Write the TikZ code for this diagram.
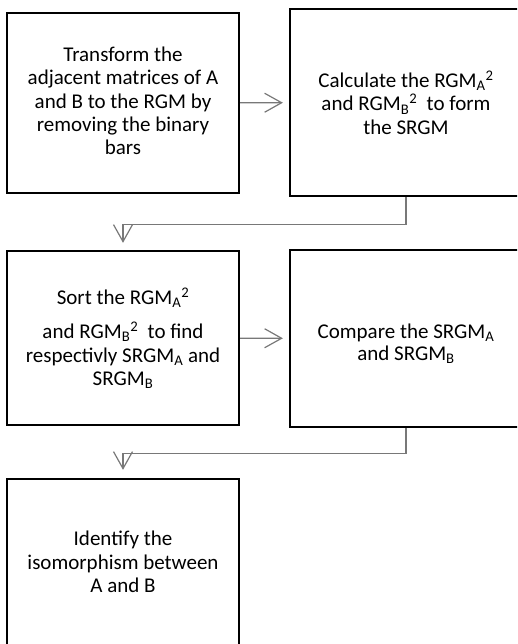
\documentclass[tikz,border=0pt]{standalone}
\usepackage{fontspec}
\setmainfont{Carlito}
\usetikzlibrary{arrows.meta}
\definecolor{edge_gray}{RGB}{120,120,120}

\begin{document}
\begin{tikzpicture}[->,x=1pt,y=-1pt,>={Straight Barb[length=17pt,width=19pt]}]
    \tikzstyle{stepbox}=[draw=black, line width=2.3pt, rectangle, minimum width=232pt, inner sep=0pt, align=center, text=black, font=\fontsize{21}{23.3}\selectfont]
    \tikzstyle{link}=[draw=edge_gray, line width=1.2pt]

    \useasboundingbox (0,0) rectangle (517,644);
    \clip (0,0) rectangle (517,644);

    \node[stepbox, minimum height=180pt] (trans) at (123,103)   {Transform the\\adjacent matrices of A\\and B to the RGM by\\removing the binary\\bars\\[-19.3pt]\mbox{}};
    \node[stepbox, minimum height=187pt] (calc)  at (406,102.5) {Calculate the RGM\textsubscript{A}\textsuperscript{2}\\and RGM\textsubscript{B}\textsuperscript{2}\ \ to form\\the SRGM};
    \node[stepbox, minimum height=174pt] (sort)  at (123,338)   {Sort the RGM\textsubscript{A}\textsuperscript{2}\\[11pt]and RGM\textsubscript{B}\textsuperscript{2}\ \ to find\\respectivly SRGM\textsubscript{A} and\\SRGM\textsubscript{B}};
    \node[stepbox, minimum height=177pt, font=\fontsize{21}{21.7}\selectfont] (comp)  at (406,338.5) {\mbox{}\\[3pt]Compare the SRGM\textsubscript{A}\\and SRGM\textsubscript{B}};
    \node[stepbox, minimum height=180pt] (iden)  at (123,569)   {Identify the\\isomorphism between\\A and B\\[-9.3pt]\mbox{}};

    \path
     (trans) edge[link, shorten >=6pt] (calc)
     (sort)  edge[link, shorten >=6pt] (comp)
     ;
    \draw[link, shorten >=7pt] (calc.south) -- ++(0,27) -| (sort.north);
    \draw[link, shorten >=8pt] (comp.south) -- ++(0,25) -| (iden.north);
\end{tikzpicture}
\end{document}
